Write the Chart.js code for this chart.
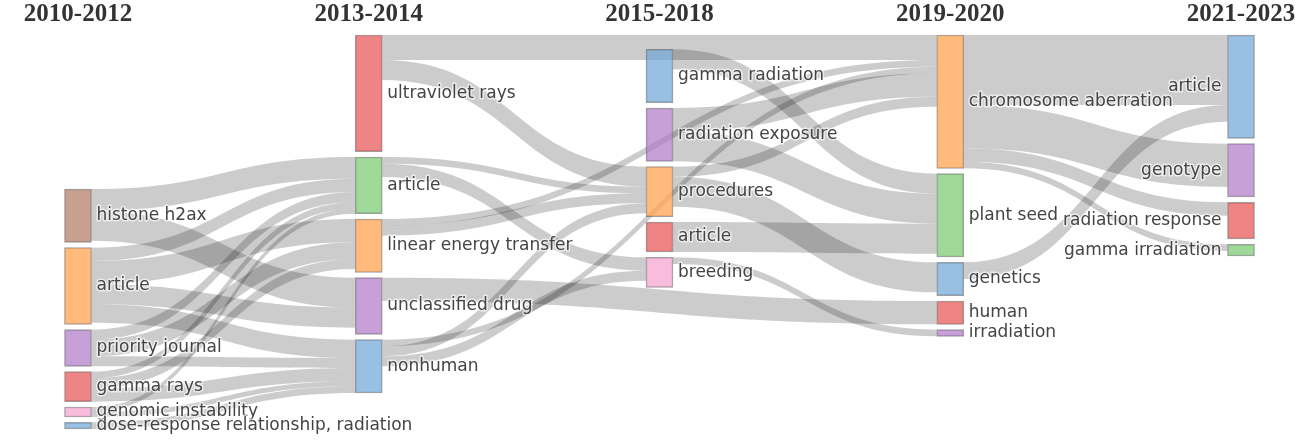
<!DOCTYPE html>
<html>
<head>
<meta charset="utf-8">
<script src="https://cdn.jsdelivr.net/npm/chart.js@4"></script>
<style>
  body { margin: 0; background: #fff; }
</style>
</head>
<body>
<canvas id="sankeyChart" width="1312" height="440"></canvas>
<script>
// periods (columns)
const columnLabels = ['2010-2012', '2013-2014', '2015-2018', '2019-2020', '2021-2023'];

// nodes
const nodeNames = [
  'histone h2ax', 'article', 'priority journal', 'gamma rays', 'genomic instability', 'dose-response relationship, radiation',
  'ultraviolet rays', 'article', 'linear energy transfer', 'unclassified drug', 'nonhuman',
  'gamma radiation', 'radiation exposure', 'procedures', 'article', 'breeding',
  'chromosome aberration', 'plant seed', 'genetics', 'human', 'irradiation',
  'article', 'genotype', 'radiation response', 'gamma irradiation'
];
const nodeColumns = [0,0,0,0,0,0, 1,1,1,1,1, 2,2,2,2,2, 3,3,3,3,3, 4,4,4,4];
const nodeValues  = [16,23,11,9,3,2, 35,17,16,17,16, 16,16,15,9,9, 40,25,10,7,2, 31,16,11,3.5];

// links (node indexes)
const linkSources = [0,0, 1,1,1,1, 2,2,2, 3,3,3, 4,4, 5,
                     6,6, 7,7, 8,8, 9, 10,10,10,
                     11, 12,12, 13,13, 14, 15,
                     16,16,16,16, 18];
const linkTargets = [7,9, 7,8,9,10, 7,8,10, 7,8,10, 7,10, 10,
                     16,13, 13,15, 16,13, 19, 16,13,15,
                     17, 16,17, 16,18, 17, 20,
                     21,22,23,24, 21];
const linkValues  = [6.5,9, 4,7,6,5.5, 3,5,3, 2,3,4, 1.5,1.5, 2,
                     7.5,6, 2,4, 2,3, 7, 2,3,3,
                     6, 7,9, 3,9, 9, 2,
                     21,13,4,2, 5];

// layout / styles
const columnTop = [46.2, 0, 4.3, 0, 0];
const nodePad = 1.6;
const nodeWidth = 27;
const palette = {
  brown: 'rgba(175,120,95,0.7)',
  orange: 'rgba(255,163,80,0.75)',
  red: 'rgba(232,80,80,0.7)',
  green: 'rgba(120,200,110,0.7)',
  purple: 'rgba(175,120,200,0.7)',
  blue: 'rgba(110,165,215,0.7)',
  pink: 'rgba(245,160,205,0.7)'
};
const nodeColors = [
  palette.brown, palette.orange, palette.purple, palette.red, palette.pink, palette.blue,
  palette.red, palette.green, palette.orange, palette.purple, palette.blue,
  palette.blue, palette.purple, palette.orange, palette.red, palette.pink,
  palette.orange, palette.green, palette.blue, palette.red, palette.purple,
  palette.blue, palette.purple, palette.red, palette.green
];

// stack nodes in each column
const nodeTop = [];
const colCursor = columnTop.slice();
nodeValues.forEach((v, i) => {
  const c = nodeColumns[i];
  nodeTop[i] = colCursor[c];
  colCursor[c] += v + nodePad;
});

const sankeyLinks = {
  id: 'sankeyLinks',
  beforeDatasetsDraw(chart) {
    const { ctx, scales: { x, y } } = chart;
    const half = nodeWidth / 2;
    const outOff = nodeTop.slice();
    const inOff = nodeTop.slice();
    ctx.save();
    ctx.fillStyle = 'rgba(0,0,0,0.2)';
    linkValues.forEach((v, i) => {
      const s = linkSources[i], t = linkTargets[i];
      const x0 = x.getPixelForValue(nodeColumns[s]) + half;
      const x1 = x.getPixelForValue(nodeColumns[t]) - half;
      const a0 = y.getPixelForValue(outOff[s]), b0 = y.getPixelForValue(outOff[s] + v);
      const a1 = y.getPixelForValue(inOff[t]), b1 = y.getPixelForValue(inOff[t] + v);
      outOff[s] += v;
      inOff[t] += v;
      const xm = (x0 + x1) / 2;
      ctx.beginPath();
      ctx.moveTo(x0, a0);
      ctx.bezierCurveTo(xm, a0, xm, a1, x1, a1);
      ctx.lineTo(x1, b1);
      ctx.bezierCurveTo(xm, b1, xm, b0, x0, b0);
      ctx.closePath();
      ctx.fill();
    });
    ctx.restore();
  }
};

const nodeLabels = {
  id: 'nodeLabels',
  afterDatasetsDraw(chart) {
    const ctx = chart.ctx;
    const meta = chart.getDatasetMeta(0);
    ctx.save();
    ctx.font = '17px "DejaVu Sans"';
    ctx.textBaseline = 'middle';
    ctx.lineJoin = 'round';
    meta.data.forEach((bar, i) => {
      const last = nodeColumns[i] === columnLabels.length - 1;
      const tx = last ? bar.x - bar.width / 2 - 6 : bar.x + bar.width / 2 + 5;
      const ty = (bar.y + bar.base) / 2;
      ctx.textAlign = last ? 'right' : 'left';
      ctx.lineWidth = 3;
      ctx.strokeStyle = 'rgba(255,255,255,0.6)';
      ctx.strokeText(nodeNames[i], tx, ty);
      ctx.fillStyle = '#444';
      ctx.fillText(nodeNames[i], tx, ty);
    });
    ctx.restore();
  }
};

new Chart('sankeyChart', {
  type: 'bar',
  data: {
    datasets: [{
      data: nodeValues.map((v, i) => ({ x: nodeColumns[i], y: [nodeTop[i], nodeTop[i] + v] })),
      backgroundColor: nodeColors,
      borderColor: 'rgba(80,80,80,0.55)',
      borderWidth: 1,
      borderSkipped: false,
      barThickness: nodeWidth,
      clip: false
    }]
  },
  options: {
    responsive: false,
    animation: false,
    layout: { padding: { left: 78, right: 71, top: 2, bottom: 5 } },
    plugins: { legend: { display: false }, tooltip: { enabled: false } },
    scales: {
      x: {
        type: 'linear',
        position: 'top',
        offset: false,
        min: 0,
        max: 4,
        grid: { display: false },
        border: { display: false },
        ticks: {
          stepSize: 1,
          padding: 0,
          color: '#333',
          font: { family: '"Liberation Serif"', size: 25, weight: 'bold', lineHeight: 1 },
          callback: v => columnLabels[v]
        }
      },
      y: { reverse: true, min: 0, max: 120, display: false }
    }
  },
  plugins: [sankeyLinks, nodeLabels]
});
</script>
</body>
</html>
